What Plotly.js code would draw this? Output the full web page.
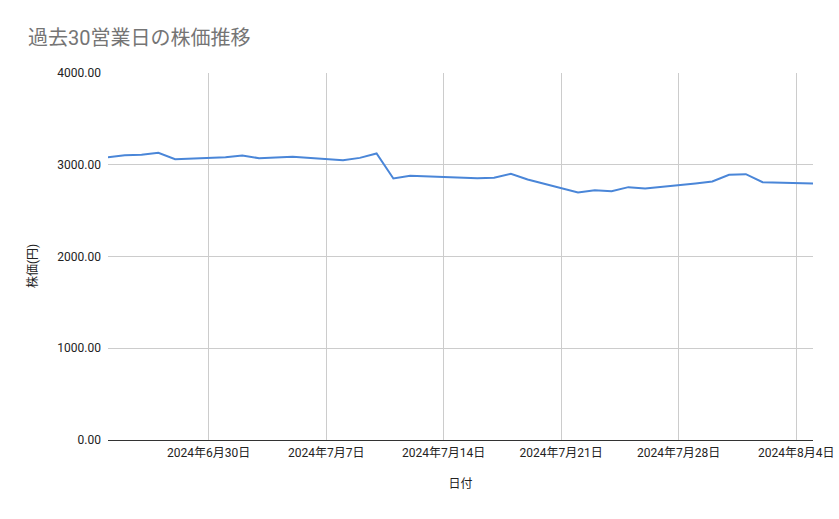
<!DOCTYPE html>
<html>
<head>
<meta charset="utf-8">
<script src="https://cdn.plot.ly/plotly-3.0.1.min.js"></script>
<style>html,body{margin:0;padding:0;background:#fff;}#chart{width:839px;height:519px;}</style>
</head>
<body>
<div id="chart"></div>
<script>
const dates = [
  '2024-06-24','2024-06-25','2024-06-26','2024-06-27','2024-06-28',
  '2024-07-01','2024-07-02','2024-07-03','2024-07-04','2024-07-05',
  '2024-07-08','2024-07-09','2024-07-10','2024-07-11','2024-07-12',
  '2024-07-16','2024-07-17','2024-07-18','2024-07-19',
  '2024-07-22','2024-07-23','2024-07-24','2024-07-25','2024-07-26',
  '2024-07-29','2024-07-30','2024-07-31','2024-08-01','2024-08-02',
  '2024-08-05'
];
const prices = [
  3082, 3104, 3108, 3130, 3061,
  3082, 3100, 3072, 3080, 3086,
  3050, 3075, 3123, 2850, 2880,
  2854, 2858, 2901, 2839,
  2697, 2723, 2712, 2756, 2741,
  2796, 2817, 2890, 2897, 2810,
  2796
];
const tickDates = ['2024-06-30','2024-07-07','2024-07-14','2024-07-21','2024-07-28','2024-08-04'];
const tickLabels = ['2024年6月30日','2024年7月7日','2024年7月14日','2024年7月21日','2024年7月28日','2024年8月4日'];
const yTicks = [0, 1000, 2000, 3000, 4000];

const fontFam = 'Roboto, Arial, "Liberation Sans", "Noto Sans CJK JP", sans-serif';

Plotly.newPlot('chart', [{
  x: dates,
  y: prices,
  type: 'scatter',
  mode: 'lines',
  line: {color: '#4a86d8', width: 2},
  hoverinfo: 'x+y'
}], {
  width: 839, height: 519,
  margin: {l: 108, r: 26, t: 73, b: 79},
  paper_bgcolor: '#fff', plot_bgcolor: '#fff',
  font: {family: fontFam, color: '#222', size: 12},
  showlegend: false,
  title: {
    text: '過去30営業日の株価推移',
    font: {family: fontFam, size: 20, color: '#757575'},
    x: 28/839, xanchor: 'left', xref: 'container',
    y: 1 - 38/519, yanchor: 'middle', yref: 'container'
  },
  xaxis: {
    type: 'date',
    range: ['2024-06-24', '2024-08-05'],
    tickvals: tickDates,
    ticktext: tickLabels,
    showgrid: true, gridcolor: '#cccccc', gridwidth: 1,
    showline: false, zeroline: false, ticks: '',
    ticklabelstandoff: 4,
    tickfont: {size: 12, color: '#222'},
    title: {text: '日付', font: {size: 12, color: '#222'}, standoff: 20}
  },
  yaxis: {
    range: [0, 4000],
    tickvals: yTicks,
    tickformat: '.2f',
    showgrid: true, gridcolor: '#cccccc', gridwidth: 1,
    zeroline: true, zerolinecolor: '#333333', zerolinewidth: 1,
    ticks: '', ticklabelstandoff: 6,
    tickfont: {size: 12, color: '#222'}
  },
  annotations: [{
    text: '株価(円)',
    xref: 'paper', yref: 'paper',
    x: (32 - 108) / 705, y: (440 - 266) / 367,
    xanchor: 'center', yanchor: 'middle',
    textangle: -90, showarrow: false,
    font: {size: 12, color: '#222'}
  }]
}, {displayModeBar: false, staticPlot: true});
</script>
</body>
</html>
